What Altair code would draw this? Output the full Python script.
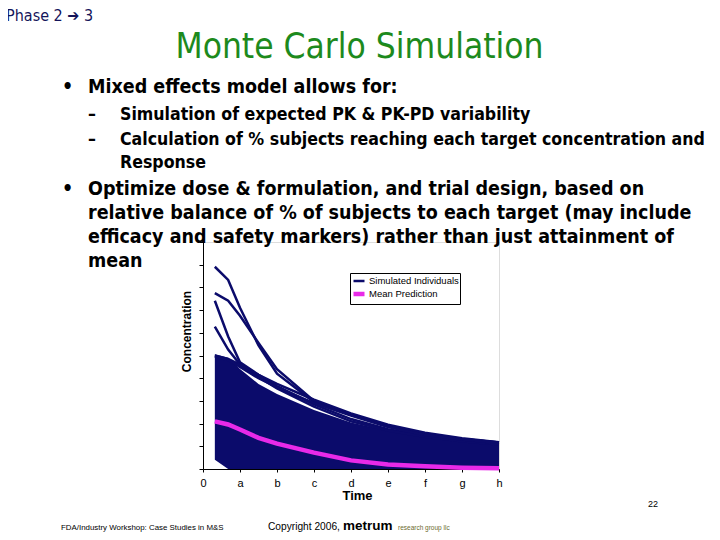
import json
import altair as alt
import pandas as pd

# ---------------- data ----------------
times = [0.32, 0.68, 1.0, 1.5, 2.0, 3.0, 4.0, 5.0, 6.0, 7.0, 8.0]

# envelope of the dense bundle of simulated individuals
band_upper = [5.05, 4.9, 4.4, 3.75, 3.3, 2.6, 2.05, 1.7, 1.42, 1.25, 1.1]
band_lower = [0.41, 0.0, 0.0, 0.0, 0.0, 0.0, 0.0, 0.0, 0.0, 0.0, 0.0]

# individual curves visible above the bundle
ind_1 = [8.91, 8.33, 7.1, 5.45, 4.2, 2.95, 2.4, 1.9, 1.55, 1.32, 1.17]
ind_2 = [7.75, 7.41, 6.75, 5.55, 4.4, 3.0, 2.4, 1.9, 1.55, 1.32, 1.17]
ind_3 = [7.41, 5.84, 4.7, 4.15, 3.65, 2.85, 2.2, 1.75, 1.45, 1.25, 1.1]
ind_4 = [6.27, 5.26, 4.6, 4.05, 3.55, 2.75, 2.1, 1.7, 1.42, 1.22, 1.08]
ind_5 = [5.0, 4.85, 4.6, 4.15, 3.75, 3.05, 2.45, 1.95, 1.6, 1.35, 1.18]
ind_6 = [4.95, 4.8, 4.5, 4.0, 3.6, 2.9, 2.35, 1.85, 1.5, 1.3, 1.15]
individuals = [ind_1, ind_2, ind_3, ind_4, ind_5, ind_6]

mean_prediction = [2.1, 1.96, 1.74, 1.37, 1.12, 0.72, 0.38, 0.2, 0.12, 0.06, 0.03]

x_tick_values = [0, 1, 2, 3, 4, 5, 6, 7, 8]
x_tick_labels = ["0", "a", "b", "c", "d", "e", "f", "g", "h"]
y_tick_values = [0, 1, 2, 3, 4, 5, 6, 7, 8, 9, 10]

series_names = ["Simulated Individuals", "Mean Prediction"]

# ---------------- tables ----------------
band_df = pd.DataFrame({"Time": times, "upper": band_upper, "lower": band_lower})
ind_rows = []
for k, curve in enumerate(individuals):
    for t, v in zip(times, curve):
        ind_rows.append({"id": k, "Time": t, "Concentration": v, "series": series_names[0]})
ind_df = pd.DataFrame(ind_rows)
mean_df = pd.DataFrame({"Time": times, "Concentration": mean_prediction,
                        "series": [series_names[1]] * len(times)})

NAVY = "#0b0b6b"
MAGENTA = "#e82ae8"
CHART_FONT = "Liberation Sans"
SLIDE_FONT = "DejaVu Sans Condensed, DejaVu Sans"
FOOT_FONT = "Liberation Sans Narrow, Liberation Sans"

label_expr = json.dumps(x_tick_labels) + "[datum.value]"

x_enc = alt.X("Time:Q",
              scale=alt.Scale(domain=[0, 8], nice=False, zero=False),
              axis=alt.Axis(values=x_tick_values, labelExpr=label_expr, grid=False,
                            title="Time", titleFont=CHART_FONT, titleFontSize=13,
                            titleFontWeight="bold", titleX=154, titleY=20,
                            titleBaseline="top",
                            labelFont=CHART_FONT, labelFontSize=11, labelColor="#000",
                            tickSize=3, labelPadding=5, domainColor="#000",
                            tickColor="#000", labelFlush=False))
y_scale = alt.Scale(domain=[0, 10], nice=False)
y_axis = alt.Axis(values=y_tick_values, labels=False, grid=False,
                  title="Concentration", titleFont=CHART_FONT, titleFontSize=12,
                  titleFontWeight="bold", titleX=-10, titleY=89, titleAngle=270,
                  titleBaseline="bottom", titleAlign="center",
                  tickSize=4, domainColor="#000", tickColor="#000")

color_scale = alt.Scale(domain=series_names, range=[NAVY, MAGENTA])
width_scale = alt.Scale(domain=series_names, range=[2.5, 4.5])
legend = alt.Legend(title=None, orient="none", legendX=147, legendY=31,
                    symbolType="stroke", symbolSize=121, symbolStrokeWidth=3.5,
                    labelFont=CHART_FONT,
                    labelFontSize=9.5, labelColor="#000", labelOffset=2,
                    rowPadding=-3, padding=1, strokeColor="#000",
                    fillColor="#ffffff", labelLimit=200)

band = alt.Chart(band_df).mark_area(color=NAVY, opacity=1).encode(
    x=x_enc,
    y=alt.Y("upper:Q", scale=y_scale, axis=y_axis),
    y2="lower:Q",
)

ind_lines = alt.Chart(ind_df).mark_line(strokeCap="butt").encode(
    x=x_enc,
    y=alt.Y("Concentration:Q", scale=y_scale, axis=y_axis),
    detail="id:N",
    color=alt.Color("series:N", scale=color_scale, legend=legend),
    strokeWidth=alt.StrokeWidth("series:N", scale=width_scale, legend=None),
)

mean_line = alt.Chart(mean_df).mark_line(strokeCap="butt").encode(
    x=x_enc,
    y=alt.Y("Concentration:Q", scale=y_scale, axis=y_axis),
    color=alt.Color("series:N", scale=color_scale, legend=legend),
    strokeWidth=alt.StrokeWidth("series:N", scale=width_scale, legend=None),
)

# ---------------- slide text (plot-relative pixel positions) ----------------
one = alt.Data(values=[{"k": 1}])


def txt(s, x, y, size, weight="normal", color="#000", font=SLIDE_FONT, align="left"):
    return alt.Chart(one).mark_text(
        text=s, x=x, y=y, fontSize=size, fontWeight=weight, color=color,
        font=font, align=align, baseline="alphabetic"
    ).encode(opacity=alt.value(1))


B = 19.5
S = 17.6
texts = [
    txt("Phase 2 \u2794 3", -197, -221, 16, color="#14145a"),
    txt("Monte Carlo Simulation", 156.5, -184, 35, color="#1d8a1d", align="center"),
    txt("\u2022", -141, -149, B, "bold"),
    txt("Mixed effects model allows for:", -115, -149, B, "bold"),
    txt("\u2013", -115, -122, S, "bold"),
    txt("Simulation of expected PK & PK-PD variability", -83, -122, S, "bold"),
    txt("\u2013", -115, -97, S, "bold"),
    txt("Calculation of % subjects reaching each target concentration and", -83, -97, S, "bold"),
    txt("Response", -83, -74, S, "bold"),
    txt("\u2022", -141, -47, B, "bold"),
    txt("Optimize dose & formulation, and trial design, based on", -115, -47, B, "bold"),
    txt("relative balance of % of subjects to each target (may include", -115, -23, B, "bold"),
    txt("efficacy and safety markers) rather than just attainment of", -115, 1, B, "bold"),
    txt("mean", -115, 25, B, "bold"),
    txt("FDA/Industry Workshop: Case Studies in M&S", -142, 288, 7.9, font=FOOT_FONT),
    txt("Copyright 2006,", 65, 288, 10.2, font=FOOT_FONT),
    txt("metrum", 140, 288, 13.5, "bold", font="Liberation Sans"),
    txt("research group llc", 195, 288, 6.5, color="#6b6b2e", font="Liberation Sans"),
    txt("22", 445, 265, 9, font="Liberation Sans"),
]

chart = alt.layer(band, ind_lines, mean_line, *texts).properties(
    width=296, height=227,
    autosize=alt.AutoSizeParams(type="none"),
    padding={"left": 195, "top": 234, "right": 213, "bottom": 63},
).configure_view(stroke=None).configure(background="white")

chart.save("out.html", embed_options={"renderer": "svg", "actions": False})
